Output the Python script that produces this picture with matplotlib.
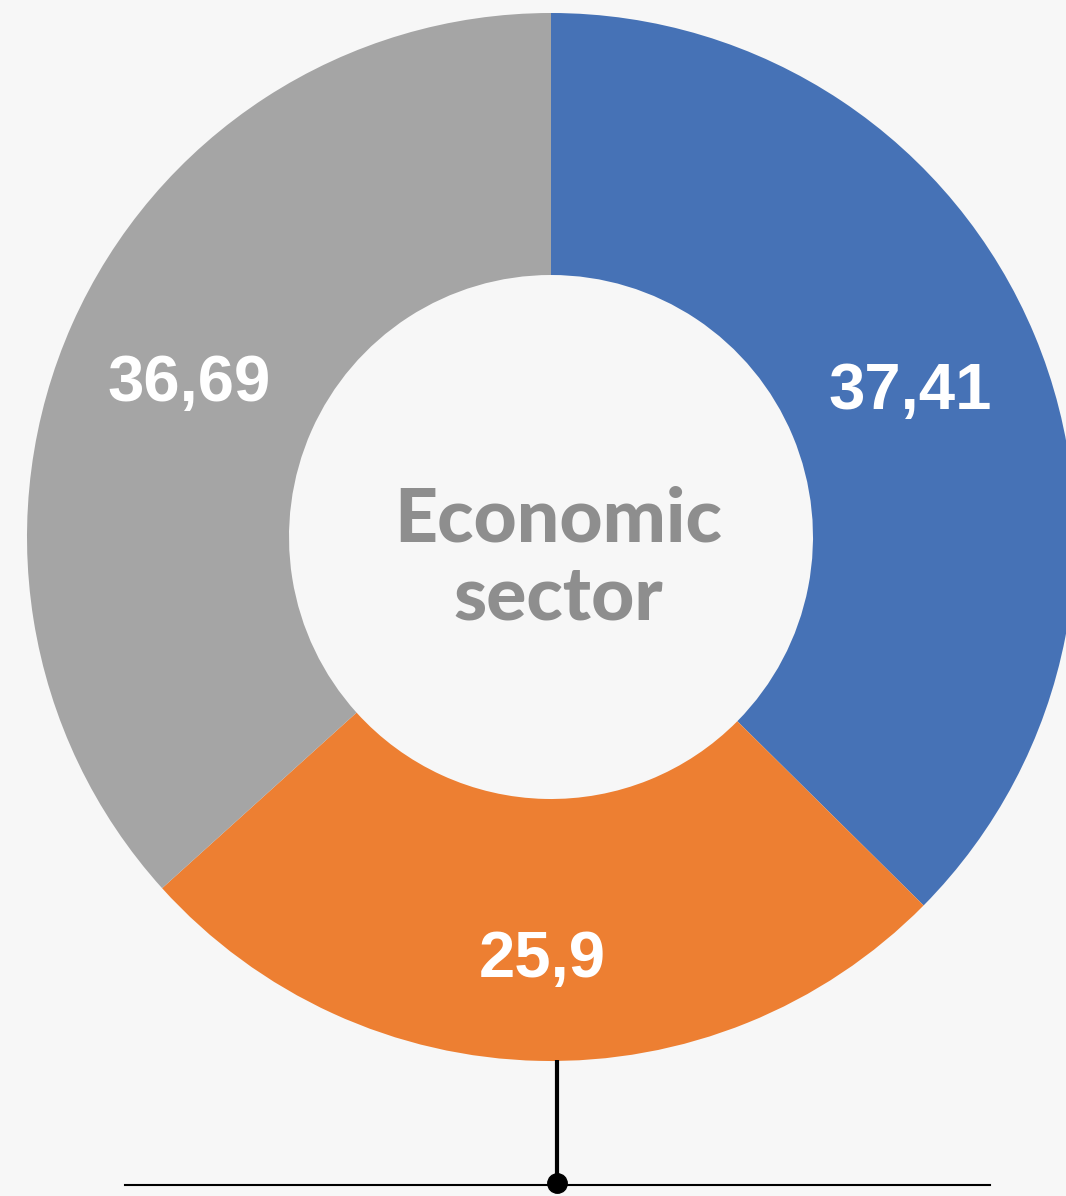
import matplotlib.pyplot as plt

# данные сектора
sectors = ['Blue', 'Orange', 'Gray']
values = [37.41, 25.9, 36.69]
labels = ['37,41', '25,9', '36,69']
colors = ['#4672b6', '#ed7f32', '#a5a5a5']
center_lines = ['Economic', 'sector']

bg = '#f7f7f7'
W, H = 1066, 1196

fig = plt.figure(figsize=(W / 100, H / 100), dpi=100, facecolor=bg)
ax = fig.add_axes([0, 0, 1, 1])
ax.set_facecolor(bg)

cx, cy = 551, H - 537
r_out = 524
r_in = 262

wedges, texts = ax.pie(values, colors=colors, startangle=90, counterclock=False,
                       center=(cx, cy), radius=r_out,
                       wedgeprops=dict(width=r_out - r_in, linewidth=0),
                       labels=labels, labeldistance=(r_in + r_out) / 2 / r_out,
                       textprops=dict(color='white', fontsize=47, fontweight='bold',
                                      family='Liberation Sans'))
# подписи: центрируем, нижнюю чуть дальше от центра
shift = [(-3, -6), (0, -30), (-3, -7)]
for t, (dx, dy) in zip(texts, shift):
    x, y = t.get_position()
    t.set_position((x + dx, y + dy))
    t.set_ha('center')
    t.set_va('center')

ax.text(558, H - 541, center_lines[0], ha='center', va='baseline', color='#8e8e8e',
        fontsize=54, fontweight='black', family='Lato')
ax.text(558, H - 620, center_lines[1], ha='center', va='baseline', color='#8e8e8e',
        fontsize=54, fontweight='black', family='Lato')

# выноска снизу
ax.plot([557, 557], [H - 1060, H - 1183], color='black', lw=3, solid_capstyle='butt')
ax.plot([125, 990], [H - 1185, H - 1185], color='black', lw=1.5)
ax.plot([557], [H - 1183], 'o', color='black', markersize=14)

# пределы ставим после pie, иначе он их перезапишет
ax.set_xlim(0, W)
ax.set_ylim(0, H)
ax.set_aspect('equal')
ax.axis('off')

fig.savefig('out.png', dpi=100, facecolor=bg)
